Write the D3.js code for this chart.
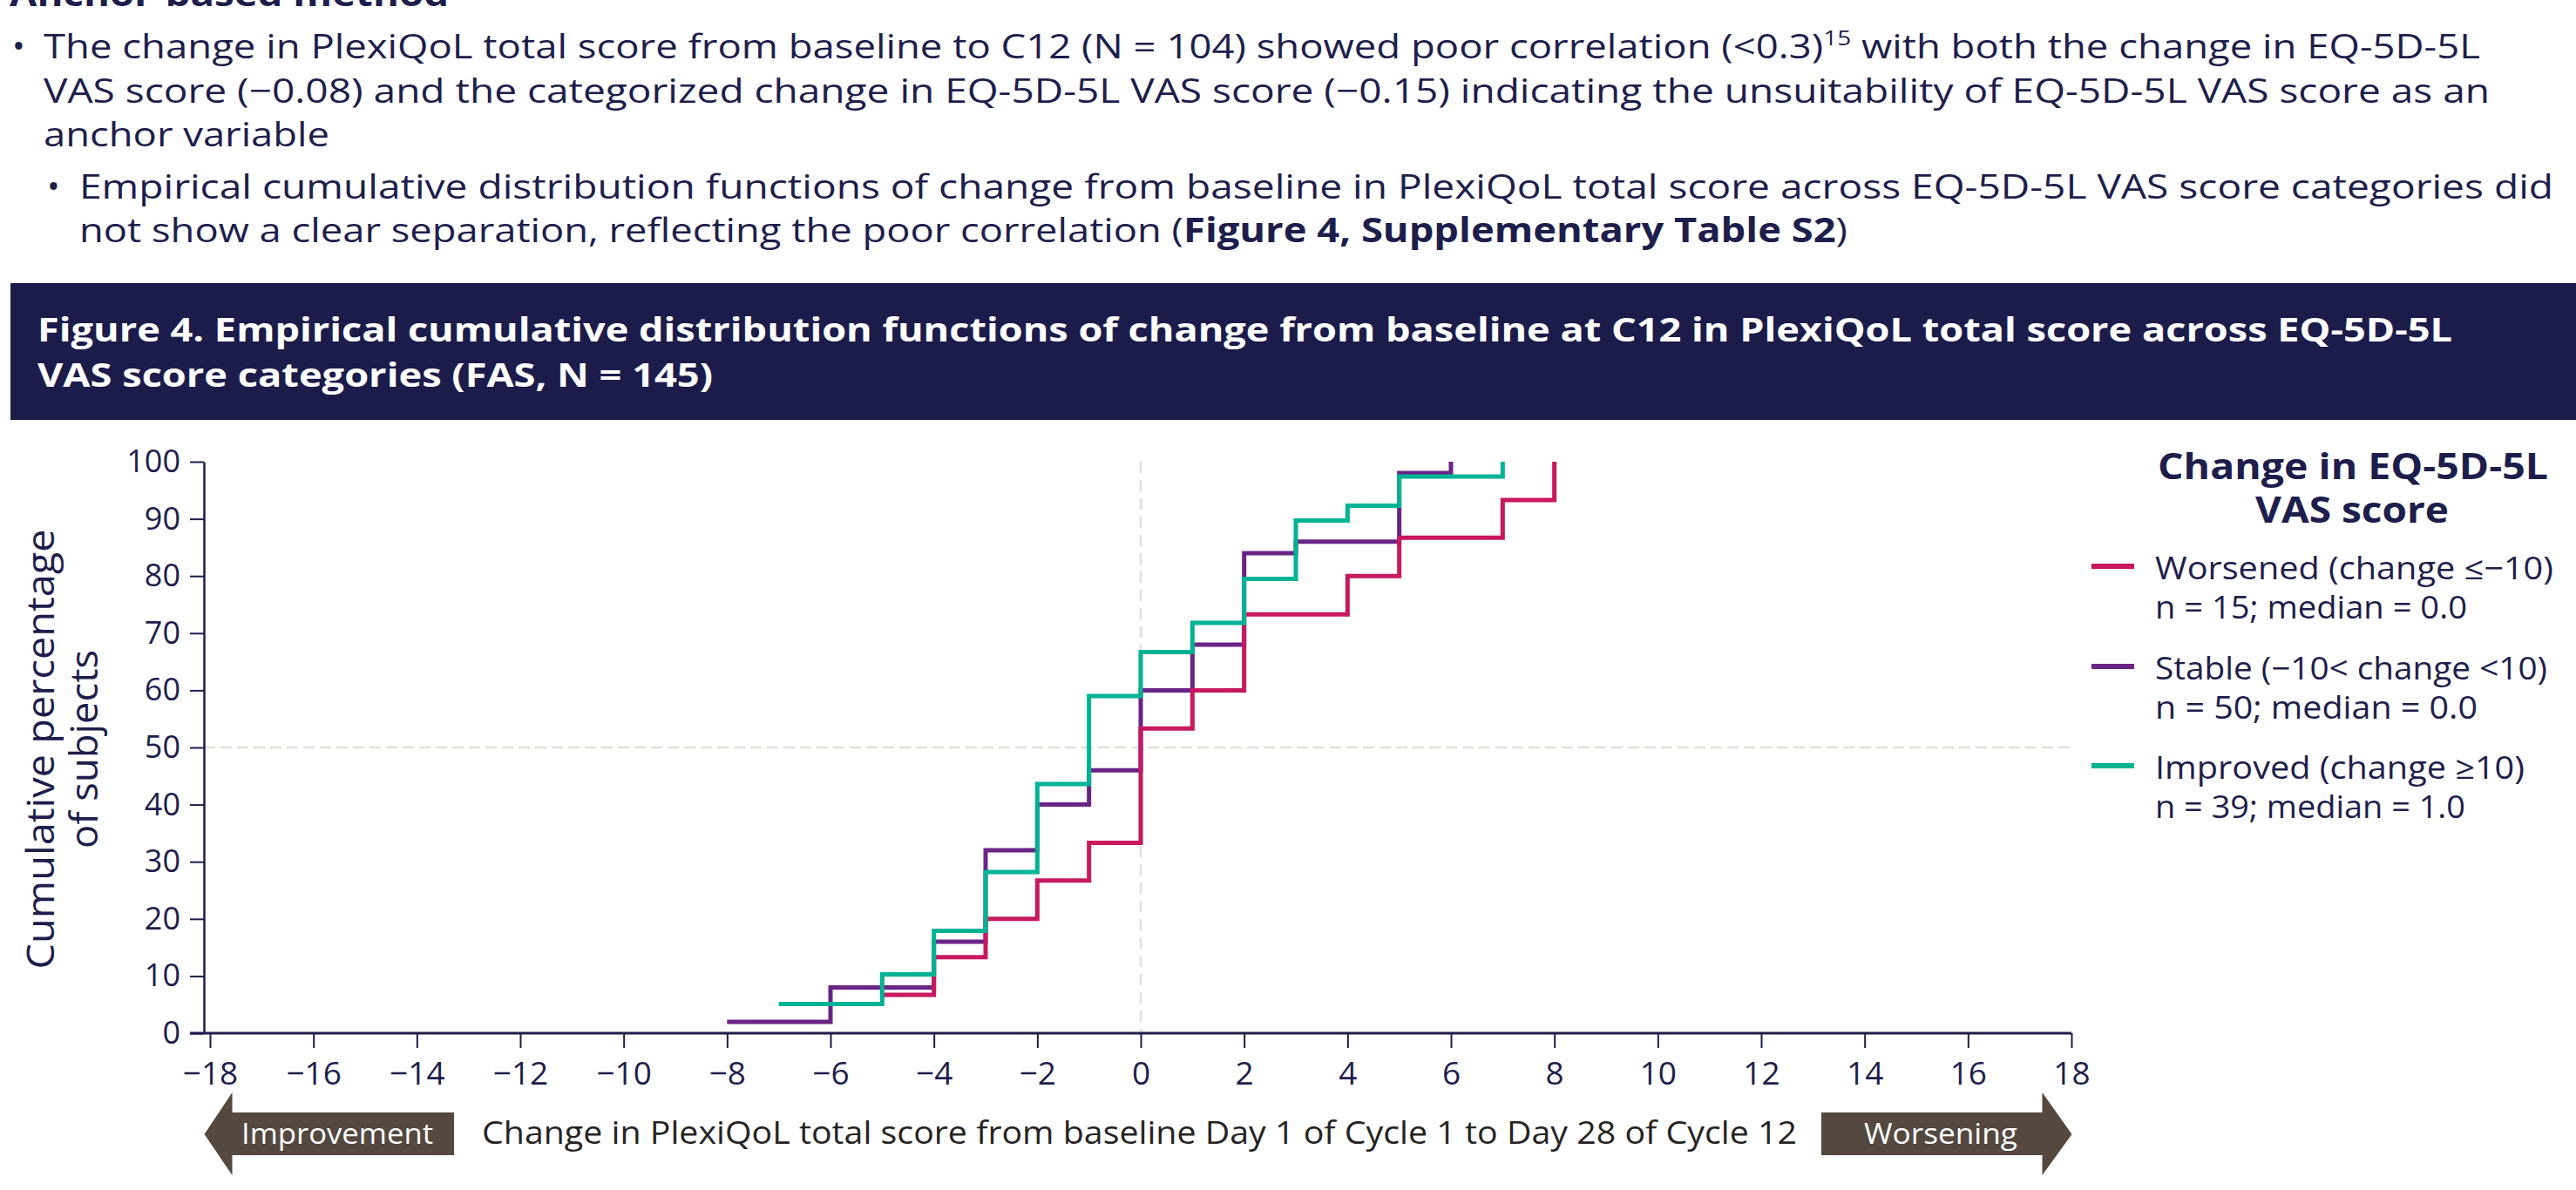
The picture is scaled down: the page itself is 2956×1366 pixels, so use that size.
<!DOCTYPE html>
<html>
<head>
<meta charset="utf-8">
<script src="https://cdn.jsdelivr.net/npm/d3@7"></script>
<style>
  html, body { margin: 0; padding: 0; background: #fff; }
  svg { display: block; font-family: "Open Sans", "Noto Sans", sans-serif; }
</style>
</head>
<body>
<script>
// ---------------- DATA ----------------
const seriesNames = ["Worsened (change \u2264\u221210)", "Stable (\u221210< change <10)", "Improved (change \u226510)"];
const seriesStats = ["n = 15; median = 0.0", "n = 50; median = 0.0", "n = 39; median = 1.0"];

const worsenedX = [-5, -4, -3, -2, -1, 0, 1, 2, 4, 5, 7, 8];
const worsenedY = [6.7, 13.3, 20.0, 26.7, 33.3, 53.3, 60.0, 73.3, 80.0, 86.7, 93.3, 100];

const stableX = [-8, -6, -4, -3, -2, -1, 0, 1, 2, 3, 5, 6];
const stableY = [2, 8, 16, 32, 40, 46, 60, 68, 84, 86, 98, 100];

const improvedX = [-7, -5, -4, -3, -2, -1, 0, 1, 2, 3, 4, 5, 7];
const improvedY = [5.1, 10.3, 17.9, 28.2, 43.6, 59.0, 66.7, 71.8, 79.5, 89.7, 92.3, 97.4, 100];

const xTicks = [-18, -16, -14, -12, -10, -8, -6, -4, -2, 0, 2, 4, 6, 8, 10, 12, 14, 16, 18];
const yTicks = [0, 10, 20, 30, 40, 50, 60, 70, 80, 90, 100];

// ---------------- LAYOUT ----------------
const W = 2956, H = 1366;
const NAVY = "#1e1e4c", BANNER = "#1c1c4b";
const colors = ["#c8185e", "#6a2485", "#00b395"];
const ARROW = "#54483f", GRID = "#e3e0da", XTITLE = "#262324";

const svg = d3.select("body").append("svg").attr("width", W).attr("height", H);

const x = d3.scaleLinear().domain([-18, 18]).range([241, 2377]);
const y = d3.scaleLinear().domain([0, 100]).range([1186, 530]);
const yAxisX = 234;

function fit(sel, w) {
  const L = sel.node().getComputedTextLength();
  if (Math.abs(L - w) > 1.5) sel.attr("textLength", w).attr("lengthAdjust", "spacingAndGlyphs");
  return sel;
}

// ---------------- BODY TEXT ----------------
const body = svg.append("g").attr("fill", NAVY);
fit(body.append("text").attr("x", 11).attr("y", 7).attr("font-size", 39).attr("font-weight", 700)
  .text("Anchor-based method"), 504);

body.append("text").attr("x", 14).attr("y", 67).attr("font-size", 39).text("\u2022");
const l1 = body.append("text").attr("x", 50).attr("y", 67).attr("font-size", 39);
l1.append("tspan").text("The change in PlexiQoL total score from baseline to C12 (N = 104) showed poor correlation (<0.3)");
l1.append("tspan").attr("font-size", 24).attr("dy", -15).text("15");
l1.append("tspan").attr("dy", 15).text(" with both the change in EQ-5D-5L");
fit(l1, 2796);
fit(body.append("text").attr("x", 50).attr("y", 118).attr("font-size", 39)
  .text("VAS score (\u22120.08) and the categorized change in EQ-5D-5L VAS score (\u22120.15) indicating the unsuitability of EQ-5D-5L VAS score as an"), 2807);
fit(body.append("text").attr("x", 50).attr("y", 168).attr("font-size", 39).text("anchor variable"), 328);

body.append("text").attr("x", 54).attr("y", 228).attr("font-size", 39).text("\u2022");
fit(body.append("text").attr("x", 91).attr("y", 228).attr("font-size", 39)
  .text("Empirical cumulative distribution functions of change from baseline in PlexiQoL total score across EQ-5D-5L VAS score categories did"), 2839);
const l5 = body.append("text").attr("x", 91).attr("y", 278).attr("font-size", 39);
l5.append("tspan").text("not show a clear separation, reflecting the poor correlation (");
l5.append("tspan").attr("font-weight", 700).text("Figure 4, Supplementary Table S2");
l5.append("tspan").text(")");
fit(l5, 2029);

// ---------------- BANNER ----------------
svg.append("rect").attr("x", 12).attr("y", 325).attr("width", W - 12).attr("height", 157).attr("fill", BANNER);
fit(svg.append("text").attr("x", 43).attr("y", 392).attr("font-size", 38).attr("font-weight", 700).attr("fill", "#fff")
  .text("Figure 4. Empirical cumulative distribution functions of change from baseline at C12 in PlexiQoL total score across EQ-5D-5L"), 2771);
fit(svg.append("text").attr("x", 43).attr("y", 444).attr("font-size", 38).attr("font-weight", 700).attr("fill", "#fff")
  .text("VAS score categories (FAS, N = 145)"), 775);

// ---------------- GRID ----------------
svg.append("line").attr("x1", x(0)).attr("x2", x(0)).attr("y1", y(100)).attr("y2", y(0))
  .attr("stroke", GRID).attr("stroke-width", 2.5).attr("stroke-dasharray", "13,8");
svg.append("line").attr("x1", yAxisX).attr("x2", x(18)).attr("y1", y(50)).attr("y2", y(50))
  .attr("stroke", GRID).attr("stroke-width", 2.5).attr("stroke-dasharray", "13,6");

// ---------------- AXES ----------------
const fmt = d => d < 0 ? "\u2212" + Math.abs(d) : String(d);
const gx = svg.append("g").attr("transform", `translate(0,${y(0)})`)
  .call(d3.axisBottom(x).tickValues(xTicks).tickFormat(fmt).tickSize(17).tickSizeOuter(0).tickPadding(16));
gx.select(".domain").remove();
gx.selectAll(".tick line").attr("stroke", NAVY).attr("stroke-width", 2);
gx.selectAll(".tick text").attr("fill", NAVY).attr("font-size", 37).attr("font-family", "Open Sans");

const gy = svg.append("g").attr("transform", `translate(${yAxisX},0)`)
  .call(d3.axisLeft(y).tickValues(yTicks).tickSize(16).tickSizeOuter(0).tickPadding(11));
gy.select(".domain").attr("stroke", NAVY).attr("stroke-width", 2.5);
gy.selectAll(".tick line").attr("stroke", NAVY).attr("stroke-width", 2);
gy.selectAll(".tick text").attr("fill", NAVY).attr("font-size", 36).attr("font-family", "Open Sans");

svg.append("line").attr("x1", yAxisX - 16).attr("x2", x(18)).attr("y1", y(0)).attr("y2", y(0))
  .attr("stroke", NAVY).attr("stroke-width", 3);

// Y title
const yt = svg.append("g").attr("fill", NAVY).attr("font-size", 44).attr("text-anchor", "middle");
fit(yt.append("text").attr("transform", `translate(62,${(y(0) + y(100)) / 2 + 2}) rotate(-90)`).text("Cumulative percentage"), 505);
fit(yt.append("text").attr("transform", `translate(112,${(y(0) + y(100)) / 2 + 2}) rotate(-90)`).text("of subjects"), 228);

// ---------------- STEP LINES ----------------
const series = [
  worsenedX.map((v, i) => [v, worsenedY[i]]),
  stableX.map((v, i) => [v, stableY[i]]),
  improvedX.map((v, i) => [v, improvedY[i]])
];
const line = d3.line().x(d => x(d[0])).y(d => y(d[1])).curve(d3.curveStepAfter);
[1, 0, 2].forEach(i => {
  svg.append("path").attr("d", line(series[i])).attr("fill", "none")
    .attr("stroke", colors[i]).attr("stroke-width", 5).attr("stroke-linejoin", "miter").attr("stroke-linecap", "butt");
});

// ---------------- X TITLE & ARROWS ----------------
fit(svg.append("text").attr("x", 553).attr("y", 1313).attr("font-size", 36).attr("fill", XTITLE)
  .text("Change in PlexiQoL total score from baseline Day 1 of Cycle 1 to Day 28 of Cycle 12"), 1509);

const ay = 1302;
const lt = yAxisX + 0.5;
svg.append("path").attr("fill", ARROW).attr("d",
  `M${lt},${ay} L${lt + 32},${ay - 48} L${lt + 32},${ay - 25} L521,${ay - 25} L521,${ay + 24} L${lt + 32},${ay + 24} L${lt + 32},${ay + 47} Z`);
fit(svg.append("text").attr("x", 387).attr("y", 1313).attr("text-anchor", "middle").attr("font-size", 32).attr("fill", "#fff")
  .text("Improvement"), 220);

const rt = x(18) + 0.5;
svg.append("path").attr("fill", ARROW).attr("d",
  `M${rt},${ay} L${rt - 34},${ay - 48} L${rt - 34},${ay - 25} L2090,${ay - 25} L2090,${ay + 24} L${rt - 34},${ay + 24} L${rt - 34},${ay + 47} Z`);
fit(svg.append("text").attr("x", 2227).attr("y", 1313).attr("text-anchor", "middle").attr("font-size", 32).attr("fill", "#fff")
  .text("Worsening"), 176);

// ---------------- LEGEND ----------------
const lg = svg.append("g").attr("fill", NAVY);
fit(lg.append("text").attr("x", 2700).attr("y", 550).attr("text-anchor", "middle").attr("font-size", 42).attr("font-weight", 700)
  .text("Change in EQ-5D-5L"), 448);
fit(lg.append("text").attr("x", 2699).attr("y", 600).attr("text-anchor", "middle").attr("font-size", 42).attr("font-weight", 700)
  .text("VAS score"), 222);
const legY = [650, 765, 879];
const nameW = [457, 450, 424];
const statW = [358, 370, 356];
seriesNames.forEach((nm, i) => {
  lg.append("line").attr("x1", 2400).attr("x2", 2449).attr("y1", legY[i]).attr("y2", legY[i])
    .attr("stroke", colors[i]).attr("stroke-width", 6);
  fit(lg.append("text").attr("x", 2473).attr("y", legY[i] + 15).attr("font-size", 36).text(nm), nameW[i]);
  fit(lg.append("text").attr("x", 2473).attr("y", legY[i] + 60).attr("font-size", 36).text(seriesStats[i]), statW[i]);
});
</script>
</body>
</html>
